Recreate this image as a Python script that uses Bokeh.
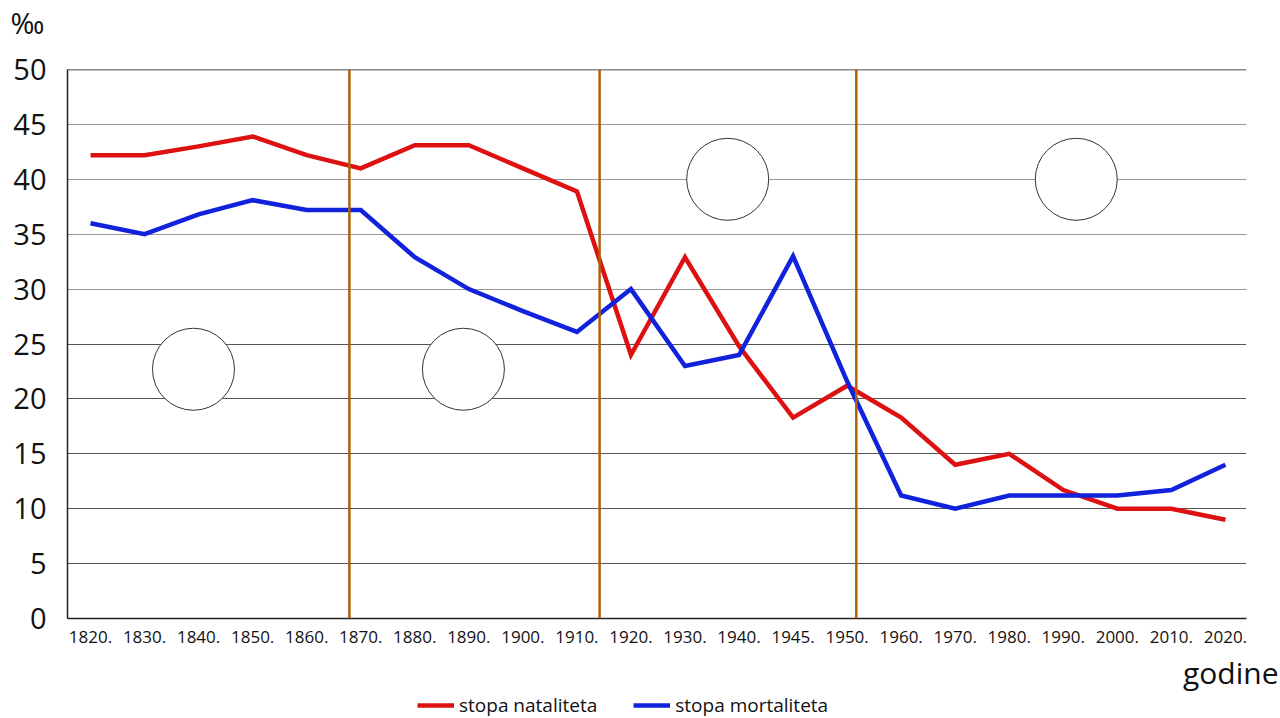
from bokeh.plotting import figure
from bokeh.layouts import column
from bokeh.models import (FixedTicker, Legend, LegendItem, Title, Span, Range1d)
from bokeh.embed import file_html
from bokeh.resources import INLINE

# ---- data ----
years = ["1820.", "1830.", "1840.", "1850.", "1860.", "1870.", "1880.", "1890.",
         "1900.", "1910.", "1920.", "1930.", "1940.", "1945.", "1950.", "1960.",
         "1970.", "1980.", "1990.", "2000.", "2010.", "2020."]
natalitet = [42.2, 42.2, 43.0, 43.9, 42.2, 41.0, 43.1, 43.1, 41.0, 38.9, 24.0,
             32.9, 24.8, 18.3, 21.2, 18.3, 14.0, 15.0, 11.7, 10.0, 10.0, 9.0]
mortalitet = [36.0, 35.0, 36.8, 38.1, 37.2, 37.2, 32.9, 30.0, 28.0, 26.1, 30.0,
              23.0, 24.0, 33.0, 21.6, 11.2, 10.0, 11.2, 11.2, 11.2, 11.7, 14.0]
phase_bounds = [4.79, 9.42, 14.17]
circle_x = [1.905, 6.90, 11.79, 18.24]
circle_y = [22.7, 22.7, 40.0, 40.0]
y_ticks = [0, 5, 10, 15, 20, 25, 30, 35, 40, 45, 50]
light_grid = [30, 35, 40, 45]
dark_grid = [5, 10, 15, 20, 25]

idx = list(range(len(years)))
FONT = "Open Sans"
RED = "#dd1111"
BLUE = "#1122dd"


def strip(h):
    f = figure(width=1280, height=h, output_backend="svg", toolbar_location=None,
               x_range=Range1d(0, 1), y_range=Range1d(0, 1),
               x_axis_location=None, y_axis_location=None,
               min_border_left=0, min_border_right=0, min_border_top=0,
               min_border_bottom=0)
    f.outline_line_color = None
    f.xgrid.visible = False
    f.ygrid.visible = False
    f.background_fill_color = "white"
    f.border_fill_color = "white"
    return f


# ---- top strip with the unit ----
p0 = strip(50)
p0.add_layout(Title(text="‰", align="left", offset=-57, text_font=FONT,
                    text_font_size="29px", text_font_style="normal",
                    text_color="#111111", standoff=0), "above")

# ---- main chart ----
p = figure(width=1280, height=599, frame_width=1179, frame_height=549,
           output_backend="svg", toolbar_location=None,
           x_range=Range1d(-0.426, 21.39), y_range=Range1d(0, 50),
           min_border_left=67, min_border_right=34, min_border_top=19,
           min_border_bottom=31)
p.outline_line_color = None
p.xgrid.visible = False
p.ygrid.visible = False
p.background_fill_color = "white"
p.border_fill_color = "white"

p.hspan(y=light_grid, line_color="#999999", line_width=1.2)
p.hspan(y=dark_grid, line_color="#555555", line_width=1.2)
p.add_layout(Span(location=50, dimension="width", line_color="#111111", line_width=1.6))

p.yaxis.ticker = FixedTicker(ticks=y_ticks)
p.yaxis.major_tick_line_color = None
p.yaxis.minor_tick_line_color = None
p.yaxis.axis_line_color = "#222222"
p.yaxis.axis_line_width = 1.5
p.yaxis.major_label_text_font = FONT
p.yaxis.major_label_text_font_size = "29px"
p.yaxis.major_label_text_color = "#111111"
p.yaxis.major_label_standoff = 15

p.xaxis.ticker = FixedTicker(ticks=idx)
p.xaxis.major_label_overrides = {i: y for i, y in enumerate(years)}
p.xaxis.major_tick_line_color = None
p.xaxis.minor_tick_line_color = None
p.xaxis.axis_line_color = "#222222"
p.xaxis.axis_line_width = 1.5
p.xaxis.major_label_text_font = FONT
p.xaxis.major_label_text_font_size = "17px"
p.xaxis.major_label_text_color = "#111111"
p.xaxis.major_label_standoff = 6

for b in phase_bounds:
    p.add_layout(Span(location=b, dimension="height", line_color="#b0600a", line_width=2.5))

p.scatter(circle_x, circle_y, marker="circle", size=82, fill_color="white",
          line_color="#333333", line_width=1)

p.line(idx, natalitet, line_color=RED, line_width=4.5, line_join="miter")
p.line(idx, mortalitet, line_color=BLUE, line_width=4.5, line_join="miter")

# ---- bottom strip: axis name and legend ----
p2 = strip(69)
p2.add_layout(Title(text="godine", align="right", offset=-32, text_font=FONT,
                    text_font_size="30px", text_font_style="normal",
                    text_color="#111111", standoff=0), "above")
lr1 = p2.line([0, 1], [-10, -10], line_color=RED, line_width=4.5)
lr2 = p2.line([0, 1], [-10, -10], line_color=BLUE, line_width=4.5)
legend = Legend(items=[LegendItem(label="stopa nataliteta", renderers=[lr1]),
                       LegendItem(label="stopa mortaliteta", renderers=[lr2])],
                orientation="horizontal", location=(350, 0),
                label_text_font=FONT, label_text_font_size="19px",
                label_text_color="#111111", glyph_width=37, glyph_height=20,
                spacing=36, padding=2, margin=0, border_line_color=None,
                background_fill_alpha=0)
p2.add_layout(legend, "center")

layout = column(p0, p, p2, spacing=0)
open("out.html", "w").write(file_html(layout, INLINE))
